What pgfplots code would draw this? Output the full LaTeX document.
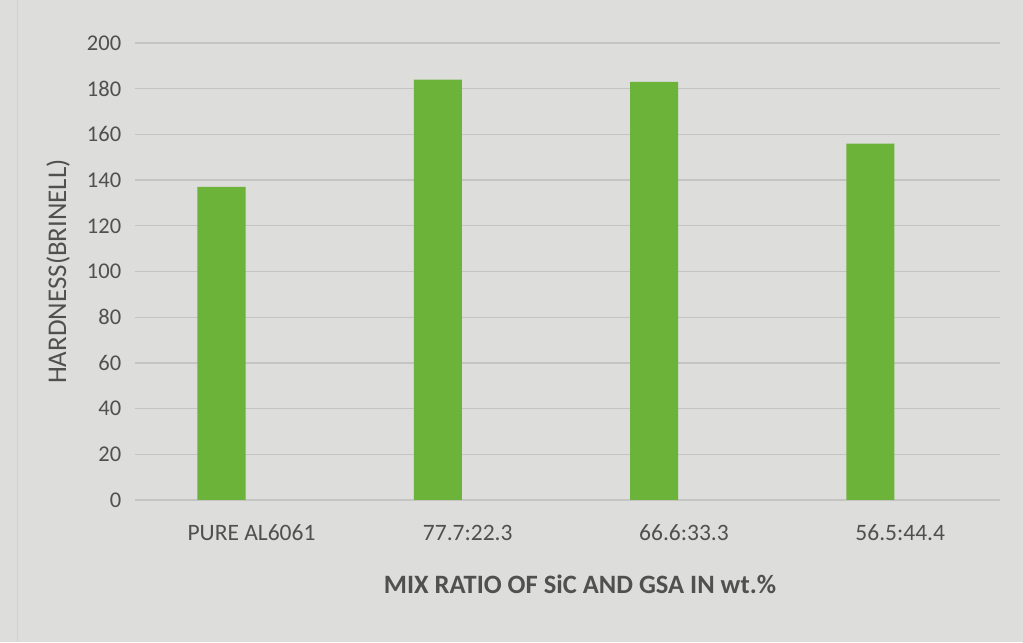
\documentclass[border=0pt]{standalone}
\usepackage{fontspec}
\setmainfont{Carlito}
\usepackage{pgfplots}
\pgfplotsset{compat=1.18}
\definecolor{bg}{HTML}{DDDDDB}
\definecolor{bargreen}{HTML}{6CB33A}
\definecolor{gridc}{HTML}{C4C4C2}
\definecolor{txt}{HTML}{505050}
\begin{document}
\begin{tikzpicture}
\fill[bg] (-54pt,-56.8pt) rectangle (355.2pt,200pt);
\useasboundingbox (-54pt,-56.8pt) rectangle (355.2pt,200pt);
\draw[gridc!80!white, line width=0.4pt] (-47pt,-56.8pt) -- (-47pt,200pt);
\begin{axis}[
  at={(0,0)}, anchor=south west,
  scale only axis,
  width=346pt, height=182.8pt,
  xmin=-0.4, xmax=3.6,
  ymin=0, ymax=200,
  ytick={0,20,...,200},
  xtick={0,1,2,3},
  xticklabels={PURE AL6061,77.7:22.3,66.6:33.3,56.5:44.4},
  axis line style={draw=none},
  major tick length=0pt,
  ymajorgrids,
  grid style={gridc, line width=0.5pt},
  tick label style={text=txt},
  yticklabel style={font=\fontsize{9}{11}\selectfont, xshift=-2pt},
  xticklabel style={font=\fontsize{9.4}{11}\selectfont, yshift=-6.5pt, xshift=12pt},
  /pgf/number format/assume math mode=true,
  xlabel={\textbf{MIX RATIO OF SiC AND GSA IN wt.\%}},
  xlabel style={font=\fontsize{10.6}{12}\selectfont, text=txt, yshift=-6.5pt, xshift=5pt},
  ylabel={HARDNESS(BRINELL)},
  ylabel style={font=\fontsize{10.8}{12}\selectfont, text=txt, yshift=0pt},
]
\addplot[ybar, bar width=19.2pt, fill=bargreen, draw=none] coordinates {
  (0,137) (1,184) (2,183) (3,156)
};
\end{axis}
\end{tikzpicture}
\end{document}
